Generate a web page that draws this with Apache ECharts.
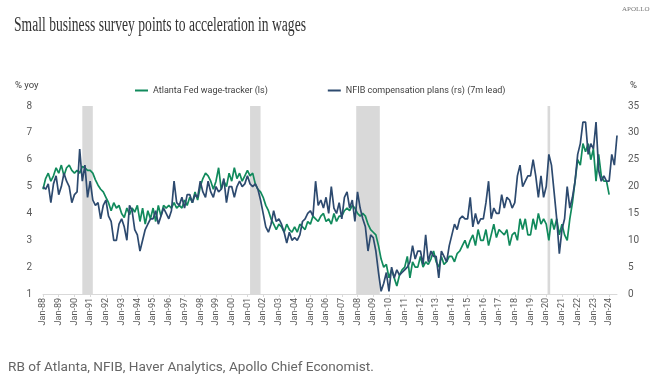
<!DOCTYPE html>
<html><head><meta charset="utf-8">
<script src="https://cdn.jsdelivr.net/npm/echarts@6/dist/echarts.min.js"></script>
<style>html,body{margin:0;padding:0;background:#fff}#c{width:668px;height:387px}</style>
</head><body><div id="c"></div>
<script>
// ---- data (bi-monthly readings: Jan, Mar, May, Jul, Sep, Nov of each year) ----
const startYear = 1988;
const endYear = 2024, endMonth = 6; // Jul-24 last category
const monthNames = ['Jan','Feb','Mar','Apr','May','Jun','Jul','Aug','Sep','Oct','Nov','Dec'];

// Atlanta Fed wage-tracker, % yoy (left scale)
const atlantaFed = [
  [4.9, 5.3, 5.5, 5.2, 5.4, 5.7],   // 1988
  [5.5, 5.8, 5.4, 5.7, 5.8, 5.6],   // 1989
  [5.5, 5.6, 5.5, 5.75, 5.7, 5.6],  // 1990
  [5.6, 5.5, 5.25, 5.05, 4.9, 4.8], // 1991
  [4.6, 4.4, 4.1, 4.4, 4.2, 4.3],   // 1992
  [4.0, 3.85, 4.2, 3.95, 4.2, 4.05],// 1993
  [4.3, 3.7, 4.2, 3.6, 4.1, 3.8],   // 1994
  [4.2, 3.7, 4.3, 3.9, 4.3, 4.2],   // 1995
  [4.3, 4.2, 4.4, 4.2, 4.3, 4.2],   // 1996
  [4.5, 4.3, 4.6, 4.4, 4.8, 4.5],   // 1997
  [5.0, 5.3, 5.5, 5.4, 5.2, 4.9],   // 1998
  [5.2, 5.7, 4.9, 5.2, 5.0, 5.5],   // 1999
  [5.2, 5.7, 5.3, 5.5, 5.2, 5.4],   // 2000
  [5.6, 5.4, 5.5, 5.1, 4.9, 4.8],   // 2001
  [4.6, 4.3, 4.1, 3.8, 3.6, 3.4],   // 2002
  [3.6, 3.5, 3.3, 3.6, 3.4, 3.3],   // 2003
  [3.5, 3.3, 3.6, 3.5, 3.4, 3.7],   // 2004
  [3.6, 3.9, 3.8, 3.7, 3.9, 4.0],   // 2005
  [3.7, 3.8, 3.6, 4.0, 3.7, 3.9],   // 2006
  [3.9, 4.1, 4.2, 4.1, 4.3, 4.2],   // 2007
  [4.0, 3.9, 4.0, 3.9, 3.6, 3.4],   // 2008
  [3.3, 3.2, 2.8, 2.3, 2.0, 2.1],   // 2009
  [1.6, 1.9, 1.6, 1.3, 1.7, 1.9],   // 2010
  [2.0, 2.4, 1.6, 2.2, 2.0, 2.0],   // 2011
  [2.4, 2.0, 2.2, 2.1, 2.3, 2.6],   // 2012
  [2.2, 2.0, 2.4, 2.1, 2.2, 2.4],   // 2013
  [2.4, 2.2, 2.5, 2.6, 2.8, 3.0],   // 2014
  [2.7, 3.0, 3.2, 2.8, 3.4, 3.0],   // 2015
  [3.0, 3.4, 2.8, 3.2, 3.6, 3.1],   // 2016
  [3.4, 3.3, 3.2, 3.4, 2.8, 3.2],   // 2017
  [3.3, 3.0, 3.8, 3.4, 3.8, 3.2],   // 2018
  [3.2, 3.8, 3.4, 4.0, 3.6, 3.8],   // 2019
  [3.6, 3.0, 3.8, 3.4, 3.8, 3.2],   // 2020
  [3.6, 3.2, 3.0, 3.8, 4.4, 5.2],   // 2021
  [6.0, 5.8, 6.6, 6.3, 6.6, 6.0],   // 2022
  [6.4, 5.2, 6.2, 5.4, 5.2, 5.2],   // 2023
  [4.7]                             // 2024
];

// NFIB compensation plans, % (right scale, 7m lead)
const nfibPlans = [
  [20, 19.5, 20.5, 17, 20.5, 22],   // 1988
  [18.5, 20, 22.5, 21, 20, 17],     // 1989
  [18.5, 19, 27, 21, 24, 18],       // 1990
  [21, 17.5, 16.5, 17, 14, 16.5],   // 1991
  [17.5, 14.5, 13.5, 10, 10, 13],   // 1992
  [14, 12.5, 10, 16.5, 15.5, 12],   // 1993
  [11, 8, 10, 12, 13, 14],          // 1994
  [14, 15.5, 13, 14.5, 16, 15],     // 1995
  [14, 15.5, 21, 17, 16.5, 18],     // 1996
  [16, 18.5, 18.5, 17, 18.5, 18],   // 1997
  [21, 19, 18, 21, 19, 18],         // 1998
  [20, 19, 19.5, 21.5, 17, 20],     // 1999
  [20, 18, 20, 21, 20, 20.5],       // 2000
  [22, 20.5, 20, 20.5, 19.5, 17.5], // 2001
  [15, 12.5, 11.5, 13, 15.5, 13.5], // 2002
  [14, 13, 11.5, 9.5, 11.5, 10],    // 2003
  [10.5, 10, 11, 13.5, 14, 15],     // 2004
  [15.5, 14.5, 21, 16.5, 17.5, 16], // 2005
  [18, 15, 20, 16, 15, 17],         // 2006
  [14, 18, 19, 16, 17.5, 13.5],     // 2007
  [19, 16, 14, 12.5, 8, 11],        // 2008
  [10.5, 8, 4, 0.5, 2, 4],          // 2009
  [0.5, 5, 3, 4.5, 3.5, 4],         // 2010
  [4.5, 5, 6, 9, 6.5, 8],           // 2011
  [8, 5.5, 11, 6, 8, 7],            // 2012
  [7, 3, 8, 7, 6, 9],               // 2013
  [11, 13, 12, 14, 14.5, 14],       // 2014
  [14, 18, 12.5, 15, 13, 14],       // 2015
  [14, 17, 21, 14, 16, 15],         // 2016
  [15, 18.5, 16, 18, 17.5, 16],     // 2017
  [17, 22, 24, 20, 21, 22],         // 2018
  [22, 25, 22, 18, 22, 18],         // 2019
  [20, 26, 24, 19, 14, 7.5],        // 2020
  [12, 14, 20, 16, 18, 21],         // 2021
  [26, 28, 32, 32, 26, 28],         // 2022
  [27, 32, 23, 21, 22, 21],         // 2023
  [21, 26, 24, 29.5]                // 2024
];

// recession periods (category labels)
const recessions = [['Jul-90','Mar-91'], ['Mar-01','Nov-01'], ['Dec-07','Jun-09'], ['Feb-20','Apr-20']];

const leftTicks = {min: 1, max: 8, interval: 1};
const rightTicks = {min: 0, max: 35, interval: 5};

// ---- build monthly categories ----
const categories = [];
for (let y = startYear; y <= endYear; y++) {
  for (let m = 0; m < 12; m++) {
    if (y === endYear && m > endMonth) break;
    categories.push(monthNames[m] + '-' + String(y).slice(2));
  }
}
function toMonthly(rows) {
  const out = new Array(categories.length).fill(null);
  rows.forEach((row, yi) => row.forEach((v, k) => {
    const idx = yi * 12 + k * 2;
    if (idx < out.length) out[idx] = v;
  }));
  return out;
}
const greenData = toMonthly(atlantaFed);
const navyData = toMonthly(nfibPlans);

const GREEN = '#118a5c', NAVY = '#2d4a6f';

// title width fitting
const titleText = 'Small business survey points to acceleration in wages';
const titleFont = '20px "Liberation Serif"';
const cv = document.createElement('canvas').getContext('2d');
cv.font = titleFont;
const titleScale = 292 / cv.measureText(titleText).width;

const chart = echarts.init(document.getElementById('c'), null, {renderer: 'canvas'});
chart.setOption({
  animation: false,
  backgroundColor: '#fff',
  grid: {left: 43, right: 51, top: 106, bottom: 93, containLabel: false},
  legend: {
    left: 130, top: 81, itemWidth: 13, itemHeight: 2, itemGap: 60, icon: 'rect',
    textStyle: {fontSize: 9, color: '#404040', fontFamily: 'Roboto'},
    data: ['Atlanta Fed wage-tracker (ls)', 'NFIB compensation plans (rs) (7m lead)']
  },
  graphic: [
    {type: 'text', x: 14, y: 26, scaleX: titleScale,
      style: {text: titleText, font: titleFont, fill: '#333', textVerticalAlign: 'middle'}},
    {type: 'text', x: 622, y: 9,
      style: {text: 'APOLLO', font: '7px "Liberation Serif"', fill: '#777', textVerticalAlign: 'middle'}},
    {type: 'text', x: 15, y: 86,
      style: {text: '% yoy', font: '9.5px Roboto', fill: '#404040', textVerticalAlign: 'middle'}},
    {type: 'text', x: 630, y: 86,
      style: {text: '%', font: '9.5px Roboto', fill: '#404040', textVerticalAlign: 'middle'}},
    {type: 'text', x: 8, y: 368,
      style: {text: 'RB of Atlanta, NFIB, Haver Analytics, Apollo Chief Economist.', font: '13.6px Roboto', fill: '#666', textVerticalAlign: 'middle'}}
  ],
  xAxis: {
    type: 'category', data: categories, boundaryGap: false,
    axisLine: {lineStyle: {color: '#d9d9d9', width: 1}},
    axisTick: {show: true, length: 3, lineStyle: {color: '#d9d9d9'}, interval: (i, v) => v.startsWith('Jan')},
    axisLabel: {rotate: 90, fontSize: 9, color: '#595959', fontFamily: 'Roboto', margin: 4,
      interval: (i, v) => v.startsWith('Jan')},
    splitLine: {show: false}
  },
  yAxis: [
    {type: 'value', min: leftTicks.min, max: leftTicks.max, interval: leftTicks.interval,
      axisLine: {show: false}, axisTick: {show: false}, splitLine: {show: false},
      axisLabel: {fontSize: 10, color: '#595959', fontFamily: 'Roboto', margin: 11}},
    {type: 'value', min: rightTicks.min, max: rightTicks.max, interval: rightTicks.interval,
      axisLine: {show: false}, axisTick: {show: false}, splitLine: {show: false},
      axisLabel: {fontSize: 10, color: '#595959', fontFamily: 'Roboto', margin: 11}}
  ],
  series: [
    {name: 'Atlanta Fed wage-tracker (ls)', type: 'line', yAxisIndex: 0, data: greenData,
      connectNulls: true, showSymbol: false, lineStyle: {color: GREEN, width: 1.7}, itemStyle: {color: GREEN},
      markArea: {silent: true, itemStyle: {color: '#d9d9d9'},
        data: recessions.map(r => [{xAxis: r[0]}, {xAxis: r[1]}])}},
    {name: 'NFIB compensation plans (rs) (7m lead)', type: 'line', yAxisIndex: 1, data: navyData,
      connectNulls: true, showSymbol: false, lineStyle: {color: NAVY, width: 1.7}, itemStyle: {color: NAVY}}
  ]
});
</script></body></html>
